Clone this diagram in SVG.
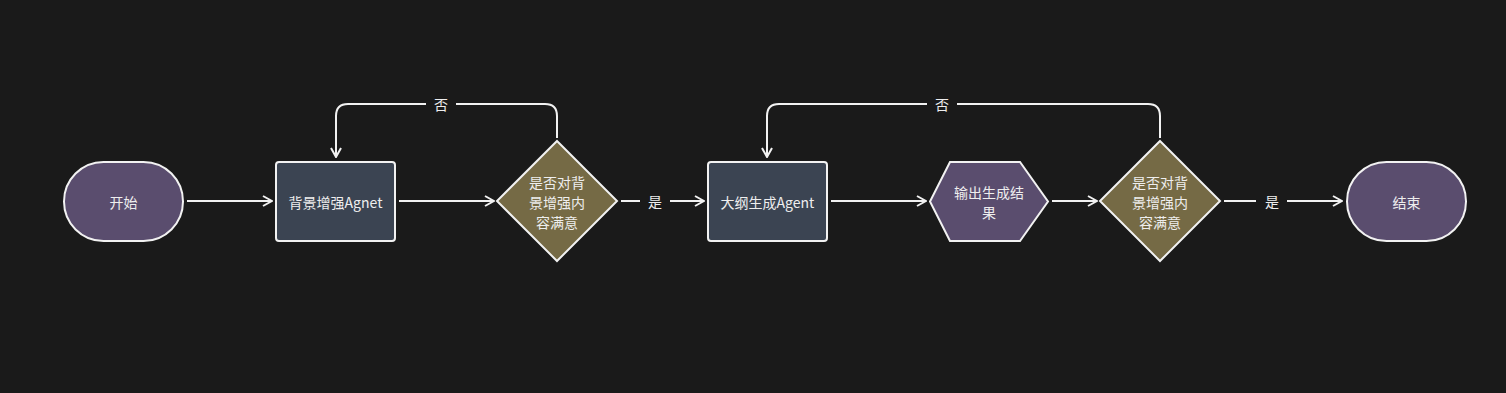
<svg xmlns="http://www.w3.org/2000/svg" width="1506" height="393" viewBox="0 0 1506 393">
<style>
.t{font-family:"Noto Sans CJK SC","Noto Sans",sans-serif;font-size:14px;fill:#eeeeee;text-anchor:middle;dominant-baseline:central}
.n{stroke:#f2f2f2;stroke-width:2}
.c{fill:none;stroke:#f2f2f2;stroke-width:2}
.lbl{font-family:"Noto Sans CJK SC","Noto Sans",sans-serif;font-size:14px;fill:#eeeeee;text-anchor:middle;dominant-baseline:central}
</style>
<defs>
<marker id="ah" viewBox="0 0 12 12" refX="11" refY="6" markerWidth="12" markerHeight="12" markerUnits="userSpaceOnUse" orient="auto">
<path d="M2,1 L11,6 L2,11" fill="none" stroke="#f2f2f2" stroke-width="2"/>
</marker>
</defs>
<rect width="1506" height="393" fill="#1a1a1a"/>
<g id="connectors">
<path class="c" d="M187,201 H272" marker-end="url(#ah)"/>
<path class="c" d="M399,201 H494" marker-end="url(#ah)"/>
<path class="c" d="M621,201 H640"/>
<path class="c" d="M670,201 H704" marker-end="url(#ah)"/>
<path class="c" d="M831,201 H926" marker-end="url(#ah)"/>
<path class="c" d="M1052,201 H1097" marker-end="url(#ah)"/>
<path class="c" d="M1224,201 H1256"/>
<path class="c" d="M1287,201 H1342" marker-end="url(#ah)"/>
<path class="c" d="M557,138 V116 Q557,104 545,104 H456 M426,104 H348 Q336,104 336,116 V157" marker-end="url(#ah)"/>
<path class="c" d="M1160,138 V116 Q1160,104 1148,104 H957 M927,104 H779 Q767,104 767,116 V157" marker-end="url(#ah)"/>
<text class="lbl" x="441" y="104">否</text>
<text class="lbl" x="942" y="104">否</text>
<text class="lbl" x="655" y="201">是</text>
<text class="lbl" x="1272" y="201">是</text>
</g>
<g id="start">
<rect class="n" x="64" y="162" width="119" height="79" rx="39.5" fill="#5a4d6e"/>
<text class="t" x="123.5" y="201.5">开始</text>
</g>
<g id="bg-agent">
<rect class="n" x="276" y="162" width="119" height="79" rx="3" fill="#3b4452"/>
<text class="t" x="335.5" y="201.5">背景增强Agnet</text>
</g>
<g id="decision1">
<polygon class="n" points="557,141 617,201 557,261 497,201" fill="#756a45"/>
<text class="t" x="557" y="182">是否对背</text>
<text class="t" x="557" y="202">景增强内</text>
<text class="t" x="557" y="222">容满意</text>
</g>
<g id="outline-agent">
<rect class="n" x="708" y="162" width="119" height="79" rx="3" fill="#3b4452"/>
<text class="t" x="767.5" y="201.5">大纲生成Agent</text>
</g>
<g id="output">
<polygon class="n" points="950,162 1020,162 1048,201.5 1020,241 950,241 930,201.5" fill="#5a4d6e"/>
<text class="t" x="989" y="192">输出生成结</text>
<text class="t" x="989" y="212">果</text>
</g>
<g id="decision2">
<polygon class="n" points="1160,141 1220,201 1160,261 1100,201" fill="#756a45"/>
<text class="t" x="1160" y="182">是否对背</text>
<text class="t" x="1160" y="202">景增强内</text>
<text class="t" x="1160" y="222">容满意</text>
</g>
<g id="end">
<rect class="n" x="1347" y="162" width="119" height="79" rx="39.5" fill="#5a4d6e"/>
<text class="t" x="1406.5" y="201.5">结束</text>
</g>
</svg>
